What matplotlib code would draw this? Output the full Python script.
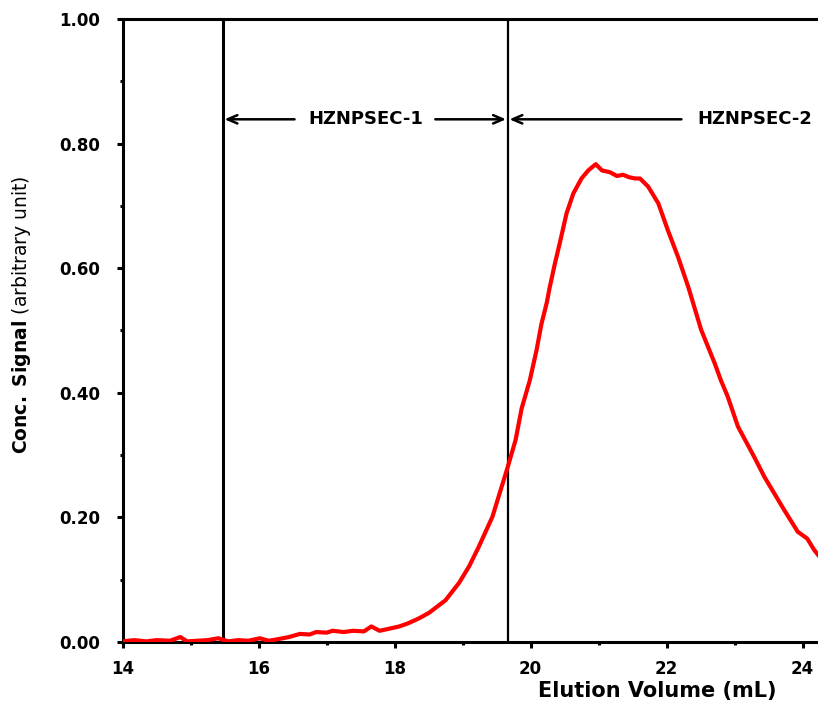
import matplotlib
matplotlib.use("Agg")
import matplotlib.pyplot as plt
from matplotlib.ticker import MultipleLocator, FormatStrFormatter, FixedLocator

elution = [14.00, 14.17, 14.35, 14.50, 14.70, 14.85, 14.95, 15.10, 15.25, 15.41,
           15.55, 15.70, 15.85, 16.02, 16.15, 16.26, 16.45, 16.61, 16.75, 16.85,
           17.00, 17.09, 17.25, 17.39, 17.55, 17.66, 17.78, 17.95, 18.07, 18.20,
           18.36, 18.51, 18.63, 18.75, 18.95, 19.10, 19.24, 19.44, 19.66, 19.78,
           19.87, 19.99, 20.09, 20.16, 20.24, 20.28, 20.36, 20.43, 20.53, 20.63,
           20.75, 20.85, 20.96, 21.05, 21.17, 21.27, 21.36, 21.45, 21.54, 21.61,
           21.73, 21.88, 22.02, 22.17, 22.32, 22.51, 22.71, 22.80, 22.90, 23.05,
           23.29, 23.44, 23.73, 23.93, 24.07, 24.17, 24.30]
signal = [0.001, 0.003, 0.001, 0.003, 0.002, 0.008, 0.001, 0.002, 0.003, 0.006,
          0.001, 0.003, 0.002, 0.006, 0.002, 0.004, 0.008, 0.013, 0.012, 0.016,
          0.015, 0.018, 0.016, 0.018, 0.017, 0.025, 0.018, 0.022, 0.025, 0.030,
          0.038, 0.047, 0.057, 0.067, 0.095, 0.122, 0.153, 0.201, 0.279, 0.324,
          0.375, 0.420, 0.469, 0.510, 0.545, 0.568, 0.608, 0.640, 0.688, 0.720,
          0.744, 0.757, 0.767, 0.757, 0.754, 0.748, 0.750, 0.746, 0.744, 0.744,
          0.731, 0.704, 0.661, 0.618, 0.570, 0.501, 0.447, 0.420, 0.394, 0.346,
          0.297, 0.265, 0.212, 0.177, 0.166, 0.148, 0.130]

x_major = [14, 16, 18, 20, 22, 24]
cut_points = [15.48, 19.67]
fraction_labels = ["HZNPSEC-1", "HZNPSEC-2"]
x_label = "Elution Volume (mL)"
y_label = r"$\bf{Conc.\ Signal}$ (arbitrary unit)"

W, H = 818, 703
fig = plt.figure(figsize=(W / 100, H / 100), dpi=100)
px_per_unit = 68.0
ax = fig.add_axes([122.5 / W, 61 / H, 12 * px_per_unit / W, 623 / H])

ax.plot(elution, signal, color="#ff0000", lw=3, solid_joinstyle="round", zorder=3)

ax.axvline(cut_points[0], color="black", lw=2.2, zorder=2)
ax.axvline(cut_points[1], color="black", lw=1.6, zorder=2)

ay = 0.839
aprops = dict(arrowstyle="->,head_length=0.7,head_width=0.3", color="black", lw=1.8,
              shrinkA=0, shrinkB=0)
ax.annotate("", xy=(cut_points[0] + 0.02, ay), xytext=(16.53, ay), arrowprops=aprops)
ax.annotate("", xy=(cut_points[1] - 0.03, ay), xytext=(18.60, ay), arrowprops=aprops)
ax.annotate("", xy=(cut_points[1] + 0.02, ay), xytext=(22.22, ay), arrowprops=aprops)
ax.text(17.58, ay, fraction_labels[0], ha="center", va="center",
        fontsize=13, fontweight="bold", family="DejaVu Sans")
ax.text(22.45, ay, fraction_labels[1], ha="left", va="center",
        fontsize=13, fontweight="bold", family="DejaVu Sans")

ax.set_xlim(14, 26)
ax.set_ylim(0, 1.0)
ax.xaxis.set_major_locator(FixedLocator(x_major))
ax.xaxis.set_minor_locator(MultipleLocator(1))
ax.yaxis.set_major_locator(MultipleLocator(0.2))
ax.yaxis.set_minor_locator(MultipleLocator(0.1))
ax.yaxis.set_major_formatter(FormatStrFormatter("%.2f"))

for s in ["left", "bottom", "top", "right"]:
    ax.spines[s].set_linewidth(2.2)
ax.tick_params(which="major", direction="out", length=4, width=2.2)
ax.tick_params(axis="x", which="major", pad=9)
ax.tick_params(axis="y", which="major", pad=12)
ax.tick_params(which="minor", direction="out", length=2.5, width=2.2)
for lab in ax.get_xticklabels() + ax.get_yticklabels():
    lab.set_fontweight("bold")
    lab.set_fontsize(12)
    lab.set_family("DejaVu Sans")

fig.text(657 / W, 1 - 691 / H, x_label, ha="center", va="center",
         fontsize=15, fontweight="bold", family="DejaVu Sans")
fig.text(22 / W, 1 - 315 / H, y_label, ha="center", va="center", rotation=90,
         fontsize=13.5, family="DejaVu Sans")

fig.savefig("out.png", dpi=100)
